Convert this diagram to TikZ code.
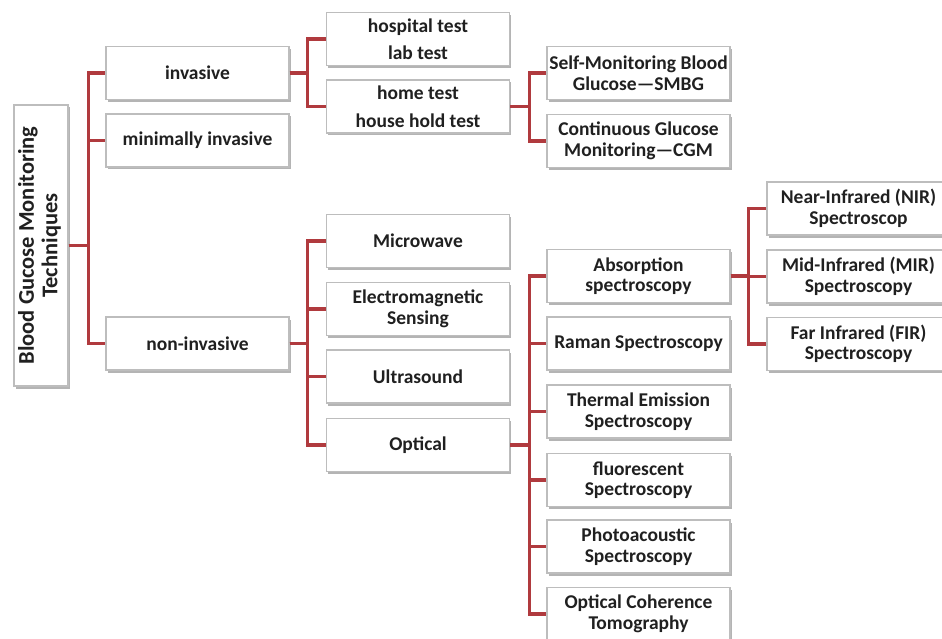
\documentclass[tikz,border=0pt]{standalone}
\usepackage{fontspec}
\setmainfont{Carlito}
\usetikzlibrary{shadows}
\definecolor{linkred}{HTML}{B03A3E}
\definecolor{boxgray}{HTML}{BDBDBD}
\definecolor{txtgray}{HTML}{202020}
\begin{document}
\begin{tikzpicture}[x=1pt,y=-1pt,
    box/.style={draw=boxgray,line width=1.2pt,fill=white,minimum width=183pt,minimum height=53pt,
      inner sep=2pt,align=center,font=\fontsize{19.5}{20.5}\selectfont\bfseries,text=txtgray,
      drop shadow={shadow xshift=1.5pt,shadow yshift=-2.5pt,fill=black!45,opacity=.65}},
    link/.style={draw=linkred,line width=3.2pt}]
                \useasboundingbox (0,0) rectangle (942,639);
                \node[box,minimum width=54pt,minimum height=281pt,font=\fontsize{22.5}{23.5}\selectfont\bfseries] (root) at (41,245.5)
                    {\rotatebox{90}{\begin{tabular}{@{}c@{}}Blood Gucose Monitoring\\Techniques\end{tabular}}};
                \node[box] (inv) at (197.5,73) {invasive};
                \node[box] (mini) at (197.5,140.5) {minimally invasive};
                \node[box] (non) at (197.5,343.5) {non-invasive};
                \node[box] (hosp) at (418,39) {hospital test\\[6pt]lab test};
                \node[box] (home) at (418,106.5) {home test\\[8pt]house hold test};
                \node[box] (smbg) at (638.5,73) {Self-Monitoring Blood\\Glucose---SMBG};
                \node[box] (cgm) at (638.5,141) {Continuous Glucose\\Monitoring---CGM};
                \node[box] (micro) at (418,241) {Microwave};
                \node[box] (em) at (418,309) {Electromagnetic\\Sensing};
                \node[box] (ultra) at (418,376.5) {Ultrasound};
                \node[box] (opt) at (418,445) {Optical};
                \node[box] (abs) at (638.5,276) {Absorption\\spectroscopy};
                \node[box] (raman) at (638.5,343.5) {Raman Spectroscopy};
                \node[box] (therm) at (638.5,411.5) {Thermal Emission\\Spectroscopy};
                \node[box] (fluo) at (638.5,480) {fluorescent\\Spectroscopy};
                \node[box] (photo) at (638.5,546.5) {Photoacoustic\\Spectroscopy};
                \node[box] (oct) at (638.5,614) {Optical Coherence\\Tomography};
                \node[box] (nir) at (858.5,208.5) {Near-Infrared (NIR)\\Spectroscop};
                \node[box] (mir) at (858.5,276.5) {Mid-Infrared (MIR)\\Spectroscopy};
                \node[box] (fir) at (858.5,344) {Far Infrared (FIR)\\Spectroscopy};
                \foreach \kid in {inv,mini,non}
                    \draw[link] (root.east) -- ++(20,0) |- (\kid.west);
                \foreach \kid in {hosp,home}
                    \draw[link] (inv.east) -- ++(18,0) |- (\kid.west);
                \foreach \kid in {smbg,cgm}
                    \draw[link] (home.east) -- ++(19,0) |- (\kid.west);
                \foreach \kid in {micro,em,ultra,opt}
                    \draw[link] (non.east) -- ++(18,0) |- (\kid.west);
                \foreach \kid in {abs,raman,therm,fluo,photo,oct}
                    \draw[link] (opt.east) -- ++(19,0) |- (\kid.west);
                \foreach \kid in {nir,mir,fir}
                    \draw[link] (abs.east) -- ++(18,0) |- (\kid.west);
            \end{tikzpicture}
\end{document}
